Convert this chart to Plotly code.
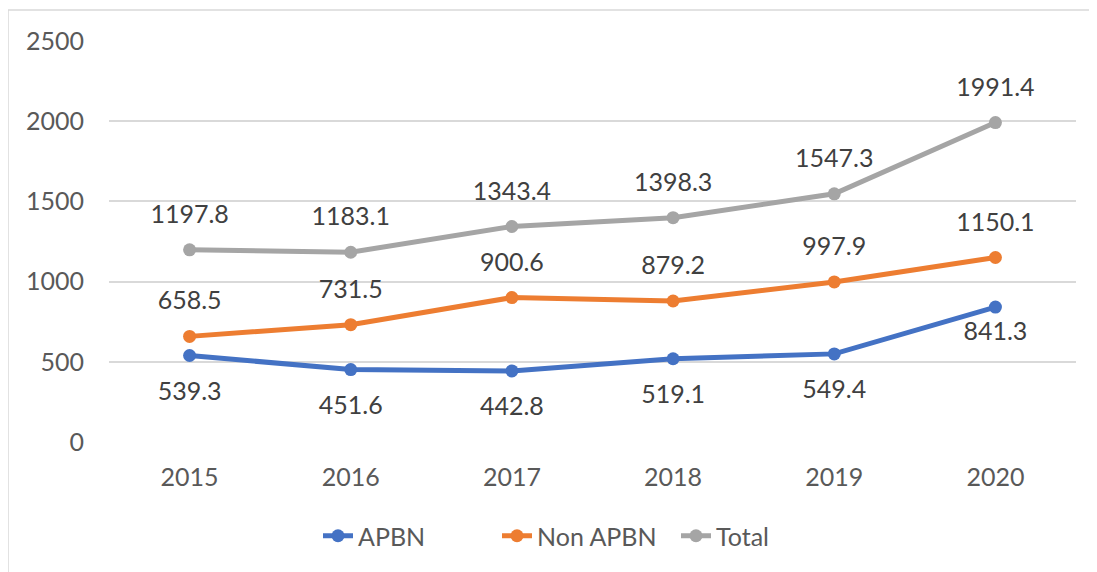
import plotly.graph_objects as go

years = ["2015", "2016", "2017", "2018", "2019", "2020"]
apbn = [539.3, 451.6, 442.8, 519.1, 549.4, 841.3]
non_apbn = [658.5, 731.5, 900.6, 879.2, 997.9, 1150.1]
total = [1197.8, 1183.1, 1343.4, 1398.3, 1547.3, 1991.4]
y_ticks = [0, 500, 1000, 1500, 2000, 2500]

series = [
    ("APBN", apbn, "#4472C4", "bottom center"),
    ("Non APBN", non_apbn, "#ED7D31", "top center"),
    ("Total", total, "#A5A5A5", "top center"),
]

FONT = "Lato"
FS = 25
OFF = 8  # page body margin
W, H = 1097 - OFF, 572 - OFF
L, R, T, B = 109 - OFF, 21, 41 - OFF, 130

fig = go.Figure()
for name, vals, color, pos in series:
    fig.add_trace(go.Scatter(
        x=years, y=vals, name=name, mode="lines+markers",
        line=dict(color=color, width=5),
        marker=dict(color=color, size=13),
        hoverinfo="skip",
    ))

# data labels: invisible spacer markers push the text away from the points
for name, vals, color, pos in series:
    if pos.startswith("top"):
        sizes = [31.6] * len(vals)
    else:
        sizes = [38.8] * len(vals)
        sizes[-1] = 21.2
    fig.add_trace(go.Scatter(
        x=years, y=vals, mode="markers+text", showlegend=False,
        text=[f"{v:.1f}" for v in vals], textposition=pos,
        textfont=dict(family=FONT, size=FS, color="#404040"),
        marker=dict(size=sizes, opacity=0, color="white"),
        hoverinfo="skip", cliponaxis=False,
    ))

pw = W - L - R
ph = H - T - B
fig.add_shape(type="rect", xref="paper", yref="paper",
              x0=(0 - L) / pw, x1=1.2, y0=-0.5, y1=(H - B - 2) / ph,
              line=dict(color="#D9D9D9", width=1.5))

fig.update_layout(
    width=W, height=H,
    margin=dict(l=L, r=R, t=T, b=B),
    paper_bgcolor="white", plot_bgcolor="white",
    font=dict(family=FONT, size=FS, color="#595959"),
    showlegend=True,
    legend=dict(orientation="h", x=(318 - 109) / 967, xanchor="left",
                y=(H - B - (536 - OFF)) / ph, yanchor="middle",
                entrywidth=134, entrywidthmode="pixels",
                font=dict(size=FS, color="#595959")),
    xaxis=dict(type="category", range=[-0.5, 5.5], showgrid=False,
               showline=False, zeroline=False, ticks="",
               ticklabelstandoff=18,
               tickfont=dict(size=FS, color="#595959")),
    yaxis=dict(range=[0, 2500], tickvals=y_ticks, showgrid=True,
               gridcolor="#D9D9D9", gridwidth=1.5, zeroline=False,
               showline=False, ticks="", ticklabelstandoff=24,
               tickfont=dict(size=FS, color="#595959")),
)

fig.write_html("out.html")
